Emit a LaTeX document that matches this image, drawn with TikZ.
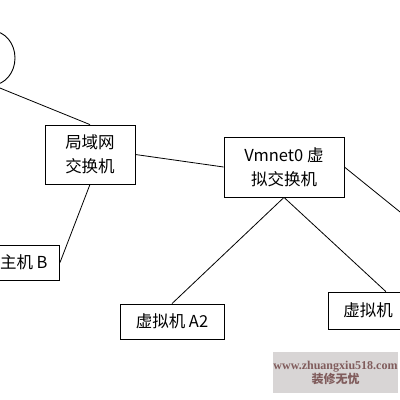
\documentclass[tikz,border=0pt]{standalone}
\usepackage{fontspec}
\setmainfont{Noto Sans CJK SC}
\newfontfamily\wmfont{Liberation Serif}
\usepackage{tikz}
\usetikzlibrary{calc,positioning}
\definecolor{wmgray}{RGB}{216,213,213}
\definecolor{wmtext}{RGB}{128,92,92}
\tikzset{
 net box/.style={draw=black,line width=.8pt,fill=white,inner sep=0pt,
                 font=\fontsize{16.5}{24}\selectfont,align=center},
 net link/.style={line width=.8pt},
 net cloud/.style={line width=.9pt},
 net mark/.style={fill=wmgray,inner sep=0pt,text=wmtext,align=center}
}
\begin{document}
\begin{tikzpicture}[x=1pt,y=-1pt]
 \useasboundingbox (0,0) rectangle (400,400);
 \clip (0,0) rectangle (400,400);
 \fill[white] (0,0) rectangle (400,400);
 % network cloud, cut by the left edge
 \draw[net cloud] (-8,58) ellipse (23 and 27);
 \coordinate (cloudEnd) at (-10,84);
 \coordinate (offRight) at (410,220);
 \node[net box,minimum width=90pt,minimum height=59pt] (lan) at (90,154.5)
   {局域网\\交换机};
 \node[net box,minimum width=120pt,minimum height=60pt] (vsw) at (284,167)
   {Vmnet0 虚\\拟交换机};
 \node[net box,anchor=east,inner xsep=12pt,minimum height=35pt] (hostB)
   at (60,262.5) {主机 B};
 \node[net box,minimum width=104pt,minimum height=35pt] (vmA) at (172,321.5)
   {虚拟机 A2};
 \node[net box,anchor=west,inner xsep=15pt,text width=85pt,align=left,
       minimum height=37pt] (vmB) at (328,310.5) {虚拟机};
 \draw[net link] (cloudEnd)--(lan.north);
 \draw[net link] (lan.east)--(vsw.west);
 \draw[net link] (lan.south)--(hostB.east);
 \draw[net link] (vsw.south)--(vmA.north);
 \draw[net link] (vsw.south)--(vmB.north);
 \draw[net link] (vsw.east)--(offRight);
 % watermark
 \node[net mark,minimum width=125pt,minimum height=41pt] (mark) at (335.5,372.5)
   {{\wmfont\bfseries\fontsize{12}{17}\selectfont www.zhuangxiu518.com}\\
    {\bfseries\fontsize{12}{17}\selectfont 装修无忧}};
\end{tikzpicture}
\end{document}
